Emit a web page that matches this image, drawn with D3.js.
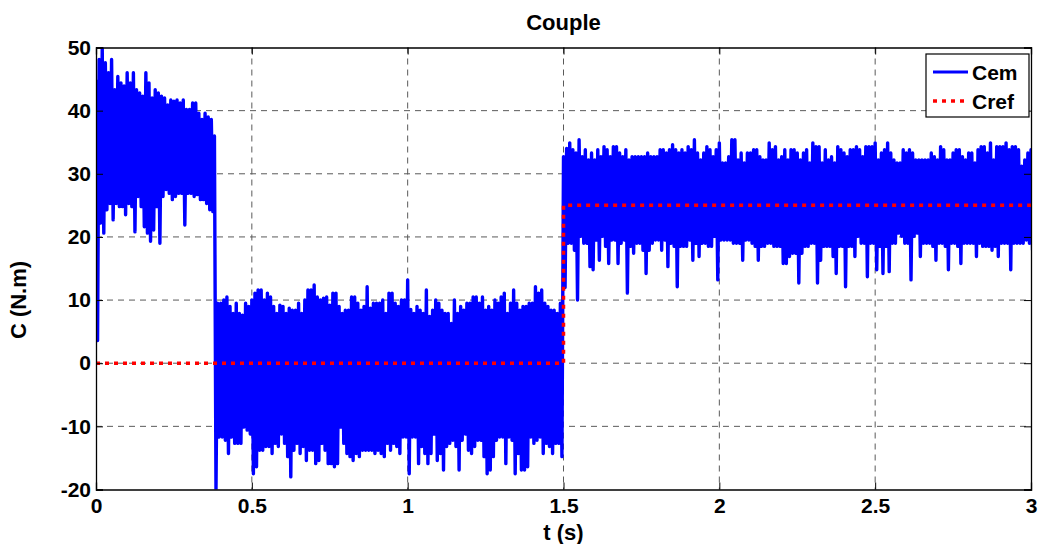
<!DOCTYPE html>
<html>
<head>
<meta charset="utf-8">
<script src="https://cdn.jsdelivr.net/npm/d3@7"></script>
<style>
  body { margin: 0; background: #fff; }
  text { font-family: Arial, "Liberation Sans", sans-serif; font-weight: bold; }
</style>
</head>
<body>
<div id="chart-area"></div>
<script>
/*
*    couple chart
*/

// Cem: one peak (high) and one trough (low) per 0.01 s, t = 0 .. 3 s
var sampleStep = 0.01;

var cemHigh = [
    // 0.00 - 0.37 s
    44.9, 48.1, 50, 47.6, 46, 48.1, 43.3, 45.4, 44.4, 43.9,
    46, 44.4, 46, 43.3, 42.8, 42.3, 46, 44.4, 42, 43.3,
    42.8, 42.3, 42, 40.9, 41.7, 41.5, 41.7, 41.2, 41.7, 40.2,
    40.2, 41.2, 41.2, 39.6, 38.6, 39.6, 39, 38.6,
    // 0.38 s drop
    36,
    // 0.39 - 0.99 s
    9.5, 9.5, 10.0, 10.5, 9.0, 7.9, 9.5, 7.9, 7.6, 9.5,
    9.0, 10.0, 11.1, 11.6, 11.6, 10.0, 11.1, 10.5, 9.0, 7.9,
    9.2, 9.0, 7.9, 8.7, 8.4, 8.4, 9.5, 7.9, 10.0, 11.6,
    11.6, 12.4, 10.5, 10.0, 10.3, 10.5, 9.2, 11.1, 11.1, 9.0,
    7.9, 8.4, 8.4, 10.5, 10.5, 9.5, 8.4, 9.0, 12.1, 8.7,
    9.5, 9.5, 9.5, 10.0, 7.9, 11.1, 11.1, 9.5, 9.0, 10.0,
    10.0,
    // 1.00 - 1.49 s
    13.2, 8.5, 7.9, 9.0, 8.4, 7.9, 11.6, 7.4, 8.4, 10.0,
    9.5, 8.4, 7.9, 7.9, 6.3, 10.0, 7.9, 9.0, 8.4, 9.5,
    9.5, 10.5, 10.5, 9.5, 10.5, 8.4, 9.0, 8.4, 10.0, 9.5,
    10.5, 11.1, 7.9, 9.5, 11.6, 9.5, 8.4, 9.0, 9.0, 9.5,
    9.5, 12.1, 11.1, 11.6, 9.5, 9.0, 8.4, 8.4, 7.9, 9.5,
    // 1.50 - 2.25 s
    32.7, 34.0, 34.9, 33.8, 33.3, 35.4, 32.7, 33.8, 32.2, 33.3,
    32.2, 33.8, 32.7, 34.3, 33.8, 32.7, 34.3, 34.3, 33.3, 32.7,
    33.8, 32.2, 32.7, 32.7, 32.7, 32.7, 32.7, 33.3, 32.7, 32.7,
    32.7, 33.8, 33.8, 33.3, 33.8, 34.6, 33.8, 33.3, 33.8, 33.3,
    34.3, 33.8, 35.4, 33.3, 32.2, 33.3, 34.3, 33.8, 32.7, 33.8,
    34.9, 31.7, 31.7, 32.7, 35.4, 35.4, 32.2, 33.3, 31.7, 33.3,
    33.3, 33.8, 33.8, 32.7, 32.2, 32.2, 34.9, 33.8, 34.3, 32.2,
    32.7, 33.8, 32.2, 33.8, 33.8, 33.3,
    // 2.26 - 3.00 s
    32.2, 33.3, 33.8, 31.7, 34.9, 34.3, 34.3, 31.7, 33.8, 32.2,
    32.7, 31.7, 34.3, 33.8, 33.3, 32.7, 33.8, 33.8, 34.3, 33.8,
    32.7, 34.3, 34.3, 34.3, 34.9, 32.2, 33.3, 33.8, 34.9, 33.3,
    32.2, 31.7, 31.7, 33.8, 33.3, 33.8, 33.3, 32.2, 32.2, 32.2,
    32.2, 32.2, 33.3, 32.7, 32.2, 34.3, 33.8, 32.2, 32.2, 33.3,
    33.8, 33.8, 32.7, 32.2, 33.3, 33.3, 31.7, 33.8, 34.3, 34.3,
    33.3, 34.9, 32.2, 34.3, 34.3, 34.3, 34.9, 33.8, 34.3, 34.3,
    33.8, 31.2, 32.2, 33.3, 33.8
];

var cemLow = [
    // 0.00 - 0.37 s
    3.6, 22.2, 20.6, 24.3, 25.3, 22.7, 25.3, 24.8, 24.8, 23.5,
    25.3, 24.8, 20.8, 26.4, 24.8, 21.6, 20.6, 19.3, 21.1, 24.8,
    19.0, 26.4, 27.5, 26.9, 25.9, 26.4, 26.9, 26.9, 21.9, 26.9,
    26.9, 26.4, 26.7, 25.9, 25.9, 25.3, 24.3, 24.0,
    // 0.38 s drop
    -20,
    // 0.39 - 0.99 s
    -11.7, -11.7, -12.2, -14.3, -11.7, -12.7, -12.7, -12.7, -10.1, -10.6,
    -11.2, -17.5, -16.4, -13.8, -13.8, -13.2, -13.2, -14.3, -12.7, -13.2,
    -11.2, -12.7, -14.8, -18.0, -13.8, -12.7, -14.3, -13.2, -15.4, -13.8,
    -13.8, -15.9, -15.4, -12.7, -13.8, -15.9, -15.9, -16.4, -15.9, -10.1,
    -12.7, -14.3, -14.8, -15.4, -14.3, -14.8, -13.8, -13.8, -13.8, -13.8,
    -14.3, -13.8, -14.3, -14.8, -12.7, -13.8, -12.7, -13.2, -14.3, -11.7,
    -11.7,
    // 1.00 - 1.49 s
    -17.5, -11.7, -11.7, -15.9, -13.2, -14.3, -15.9, -14.3, -11.2, -15.4,
    -14.3, -16.9, -13.2, -12.7, -12.2, -13.2, -16.9, -12.2, -11.2, -13.8,
    -14.3, -13.2, -12.2, -12.2, -14.8, -17.5, -16.9, -14.8, -12.2, -11.7,
    -11.7, -15.9, -11.7, -12.2, -17.5, -14.3, -16.9, -16.9, -16.4, -11.7,
    -12.7, -12.2, -11.7, -14.3, -12.7, -13.2, -14.3, -12.7, -12.7, -14.8,
    // 1.50 - 2.25 s
    12, 19.0, 19.0, 17.9, 10.0, 20.1, 19.0, 19.0, 15.3, 14.8,
    19.5, 16.3, 20.1, 18.5, 15.8, 19.5, 19.5, 15.8, 19.0, 19.5,
    11.1, 18.5, 17.4, 19.0, 19.0, 17.9, 14.2, 17.9, 19.0, 19.5,
    19.5, 17.9, 19.5, 15.3, 19.0, 18.5, 12.1, 18.5, 18.5, 18.5,
    19.5, 16.3, 19.0, 16.9, 19.0, 19.0, 18.5, 18.5, 20.1, 13.2,
    19.5, 19.5, 19.5, 19.5, 19.0, 19.0, 19.0, 16.3, 19.5, 19.5,
    19.0, 18.5, 16.3, 18.5, 18.5, 19.0, 19.0, 18.5, 18.5, 18.5,
    15.8, 15.8, 16.9, 17.4, 17.4, 12.7,
    // 2.26 - 3.00 s
    17.4, 18.5, 18.5, 19.0, 19.0, 12.7, 16.3, 18.5, 18.5, 18.5,
    16.9, 14.2, 18.5, 18.5, 12.1, 18.5, 18.5, 16.9, 20.1, 19.0,
    19.0, 13.7, 19.0, 19.0, 14.8, 18.5, 14.2, 18.5, 14.5, 19.0,
    19.0, 20.6, 20.1, 19.0, 19.0, 13.2, 20.1, 20.6, 16.9, 19.0,
    19.0, 19.0, 18.5, 16.3, 19.0, 19.0, 18.5, 14.8, 19.0, 19.0,
    18.5, 15.8, 19.0, 19.0, 19.0, 19.0, 16.9, 19.0, 18.5, 18.5,
    18.5, 17.9, 18.5, 16.9, 19.0, 19.0, 19.0, 14.8, 19.0, 19.0,
    19.0, 19.0, 19.5, 19.0, 17.9
];

// Cref step
var crefTimes = [0, 1.5, 1.5, 3];
var crefValues = [0, 0, 25, 25];

var xTicks = [0, 0.5, 1, 1.5, 2, 2.5, 3];
var yTicks = [-20, -10, 0, 10, 20, 30, 40, 50];

var margin = {left: 96, right: 8, top: 47.5, bottom: 54.5};
var width = 1039 - margin.left - margin.right;
var height = 544 - margin.top - margin.bottom;

var svg = d3.select("#chart-area")
  .append("svg")
    .attr("width", 1039)
    .attr("height", 544);

var g = svg.append("g")
    .attr("transform", "translate(" + margin.left + ", " + margin.top + ")");

var x = d3.scaleLinear()
    .domain([0, 3])
    .range([0, width]);

var y = d3.scaleLinear()
    .domain([-20, 50])
    .range([height, 0]);

g.append("clipPath")
    .attr("id", "plot-clip")
  .append("rect")
    .attr("width", width)
    .attr("height", height);

// grid
g.append("g")
    .attr("class", "grid")
    .selectAll("line.vx")
    .data(xTicks.slice(1, -1))
    .enter().append("line")
        .attr("x1", (d) => x(d))
        .attr("x2", (d) => x(d))
        .attr("y1", 0)
        .attr("y2", height)
        .attr("stroke", "#5a5a5a")
        .attr("stroke-dasharray", "6,5");

g.append("g")
    .attr("class", "grid")
    .selectAll("line.hy")
    .data(yTicks.slice(1, -1))
    .enter().append("line")
        .attr("x1", 0)
        .attr("x2", width)
        .attr("y1", (d) => y(d))
        .attr("y2", (d) => y(d))
        .attr("stroke", "#5a5a5a")
        .attr("stroke-dasharray", "6,5");

// Cem: peak then trough for each sample
var cemPoints = [];
cemHigh.forEach((h, i) => {
    cemPoints.push([i * sampleStep, h]);
    cemPoints.push([i * sampleStep + sampleStep / 2, cemLow[i]]);
});

var line = d3.line()
    .x((d) => x(d[0]))
    .y((d) => y(d[1]));

var plot = g.append("g")
    .attr("clip-path", "url(#plot-clip)");

plot.append("path")
    .datum(cemPoints)
    .attr("d", line)
    .attr("fill", "none")
    .attr("stroke", "#0000ff")
    .attr("stroke-width", 3.4)
    .attr("stroke-linejoin", "round");

plot.append("path")
    .datum(crefTimes.map((t, i) => [t, crefValues[i]]))
    .attr("d", line)
    .attr("fill", "none")
    .attr("stroke", "#ff0000")
    .attr("stroke-width", 3.5)
    .attr("stroke-dasharray", "4,5");

// axes, ticks inside on all four sides
var bottomAxis = d3.axisBottom(x)
    .tickValues(xTicks)
    .tickFormat((d) => String(d))
    .tickSize(-7)
    .tickPadding(9);
g.append("g")
    .attr("class", "bottom axis")
    .attr("transform", "translate(0, " + height + ")")
    .call(bottomAxis);

var leftAxis = d3.axisLeft(y)
    .tickValues(yTicks)
    .tickFormat((d) => String(d))
    .tickSize(-7)
    .tickPadding(5);
g.append("g")
    .attr("class", "left axis")
    .call(leftAxis);

g.append("g")
    .attr("class", "top axis")
    .call(d3.axisTop(x).tickValues(xTicks).tickSize(-7).tickFormat(""));

g.append("g")
    .attr("class", "right axis")
    .attr("transform", "translate(" + width + ", 0)")
    .call(d3.axisRight(y).tickValues(yTicks).tickSize(-7).tickFormat(""));

g.selectAll(".axis path").attr("stroke", "#000").attr("stroke-width", 1.3);
g.selectAll(".axis line").attr("stroke", "#000").attr("stroke-width", 1);
g.selectAll(".axis text")
    .attr("font-size", "21px")
    .attr("font-family", "Arial, 'Liberation Sans', sans-serif")
    .attr("font-weight", "bold")
    .attr("fill", "#000");

// labels
svg.append("text")
    .attr("x", margin.left + width / 2)
    .attr("y", 30)
    .attr("font-size", "22px")
    .attr("text-anchor", "middle")
    .text("Couple");

svg.append("text")
    .attr("x", margin.left + width / 2)
    .attr("y", 540)
    .attr("font-size", "22px")
    .attr("text-anchor", "middle")
    .text("t (s)");

svg.append("text")
    .attr("x", -300)
    .attr("y", 26)
    .attr("font-size", "22px")
    .attr("text-anchor", "middle")
    .attr("transform", "rotate(-90)")
    .text("C (N.m)");

// legend
var legendNames = ["Cem", "Cref"];
var legendColors = ["#0000ff", "#ff0000"];
var legendDash = [null, "4,5"];

var legend = svg.append("g")
    .attr("transform", "translate(926, 54)");

legend.append("rect")
    .attr("width", 103)
    .attr("height", 63)
    .attr("fill", "#fff")
    .attr("stroke", "#000")
    .attr("stroke-width", 1.2);

legendNames.forEach((name, i) => {
    legend.append("line")
        .attr("x1", 7)
        .attr("x2", 42)
        .attr("y1", 18 + i * 29)
        .attr("y2", 18 + i * 29)
        .attr("stroke", legendColors[i])
        .attr("stroke-width", i === 0 ? 3 : 3.5)
        .attr("stroke-dasharray", legendDash[i]);
    legend.append("text")
        .attr("x", 46)
        .attr("y", 25.5 + i * 29)
        .attr("font-size", "21px")
        .text(name);
});
</script>
</body>
</html>
